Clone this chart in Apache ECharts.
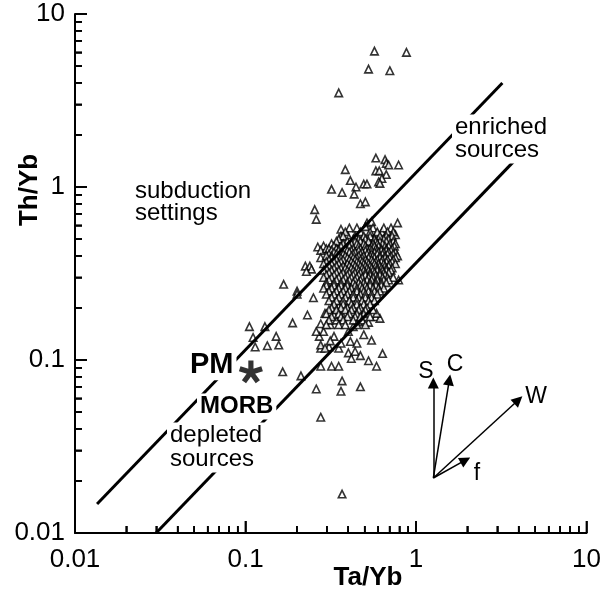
<!DOCTYPE html>
<html><head><meta charset="utf-8">
<script src="https://cdn.jsdelivr.net/npm/echarts@6/dist/echarts.min.js"></script>
<style>
html,body{margin:0;padding:0;background:#fff}
#wrap{position:relative;width:604px;height:595px}
#axes,#marks{position:absolute;left:0;top:0;width:604px;height:595px}
#marks{pointer-events:none}
</style>
</head><body><div id="wrap"><div id="axes"></div><div id="marks"></div></div>
<script>
// ---- data (Ta/Yb, Th/Yb) ----
const xTickLabels = ['0.01', '0.1', '1', '10'];
const yTickLabels = ['0.01', '0.1', '1', '10'];
const majorTickValues = [0.01, 0.1, 1, 10];
const minorTickValues = [0.02,0.03,0.04,0.05,0.06,0.07,0.08,0.09,0.2,0.3,0.4,0.5,0.6,0.7,0.8,0.9,2,3,4,5,6,7,8,9];

const outlierPoints = [[0.53,6.1],[0.81,6.0],[0.49,4.8],[0.65,4.7],[0.33,3.5]];
const upperPoints = [[0.54,1.47],[0.61,1.44],[0.62,1.37],[0.64,1.34],[0.73,1.34],[0.36,1.26],[0.54,1.24],[0.565,1.24],[0.62,1.18],[0.585,1.12],[0.56,1.07],[0.57,1.05],[0.385,1.09],[0.30,0.97],[0.345,0.93],[0.415,1.0],[0.46,1.04],[0.48,1.04],[0.405,0.91],[0.44,0.80],[0.47,0.82],[0.24,0.74],[0.245,0.65],[0.72,0.62],[0.70,0.53],[0.48,0.62],[0.51,0.63],[0.47,0.59],[0.34,0.57],[0.34,0.52],[0.37,0.53],[0.55,0.54],[0.585,0.55],[0.51,0.51],[0.57,0.51],[0.49,0.48],[0.45,0.49],[0.27,0.456],[0.33,0.45],[0.57,0.456],[0.61,0.456]];
const leftPoints = [[0.159,0.274],[0.101,0.156],[0.106,0.135],[0.144,0.137],[0.149,0.122],[0.128,0.121],[0.109,0.119],[0.179,0.164],[0.218,0.182],[0.236,0.229],[0.124,0.156],[0.19,0.25],[0.19,0.24],[0.212,0.349],[0.225,0.349],[0.23,0.335],[0.215,0.325],[0.25,0.45],[0.26,0.43],[0.28,0.44],[0.26,0.39],[0.157,0.0855],[0.20,0.081],[0.26,0.117]];
const lowerPoints = [[0.51,0.13],[0.49,0.165],[0.54,0.178],[0.57,0.174],[0.73,0.29],[0.26,0.092],[0.30,0.092],[0.33,0.092],[0.26,0.122],[0.29,0.119],[0.33,0.117],[0.34,0.125],[0.385,0.128],[0.42,0.125],[0.375,0.11],[0.41,0.112],[0.39,0.102],[0.44,0.106],[0.49,0.099],[0.545,0.092],[0.59,0.109],[0.345,0.0757],[0.34,0.066],[0.44,0.07],[0.245,0.068],[0.26,0.0467],[0.345,0.0168],[0.31,0.137],[0.295,0.129],[0.275,0.117],[0.375,0.146],[0.255,0.137],[0.27,0.146],[0.295,0.16],[0.32,0.17],[0.35,0.178],[0.245,0.146],[0.26,0.162],[0.31,0.182],[0.275,0.186],[0.31,0.2],[0.33,0.205],[0.4,0.156],[0.43,0.166],[0.46,0.14],[0.545,0.186]];
const coreRows = [
  [0.58, [0.38,0.42,0.52,0.6,0.66]],
  [0.55, [0.36,0.44,0.5,0.55,0.63,0.68]],
  [0.52, [0.35,0.41,0.46,0.5,0.57,0.62,0.67]],
  [0.5,  [0.33,0.4,0.43,0.47,0.53,0.6,0.64]],
  [0.485,[0.32,0.37,0.41,0.44,0.49,0.54,0.57,0.62,0.68]],
  [0.47, [0.3,0.35,0.39,0.42,0.46,0.52,0.55,0.59,0.65,0.7]],
  [0.455,[0.31,0.34,0.38,0.43,0.47,0.51,0.53,0.56,0.61,0.64,0.69]],
  [0.44, [0.29,0.32,0.36,0.4,0.44,0.48,0.5,0.54,0.58,0.62,0.67]],
  [0.43, [0.3,0.33,0.37,0.39,0.43,0.47,0.51,0.55,0.58,0.62,0.66]],
  [0.42, [0.31,0.34,0.38,0.41,0.45,0.49,0.53,0.56,0.6,0.64,0.7]],
  [0.41, [0.29,0.32,0.35,0.4,0.44,0.48,0.51,0.55,0.59,0.63,0.68]],
  [0.4,  [0.28,0.3,0.33,0.36,0.39,0.43,0.46,0.5,0.52,0.57,0.61,0.66,0.72]],
  [0.39, [0.3,0.34,0.37,0.4,0.42,0.45,0.49,0.53,0.57,0.61,0.65,0.7]],
  [0.38, [0.29,0.32,0.35,0.38,0.41,0.44,0.47,0.51,0.55,0.59,0.63,0.68]],
  [0.37, [0.28,0.31,0.34,0.39,0.42,0.45,0.48,0.52,0.54,0.58,0.62,0.67]],
  [0.36, [0.27,0.3,0.33,0.37,0.4,0.43,0.46,0.49,0.53,0.56,0.6,0.65,0.7]],
  [0.35, [0.29,0.32,0.35,0.38,0.41,0.44,0.47,0.5,0.54,0.57,0.61,0.64]],
  [0.34, [0.28,0.31,0.34,0.36,0.39,0.42,0.45,0.48,0.51,0.55,0.58,0.62,0.67]],
  [0.33, [0.27,0.3,0.33,0.37,0.4,0.43,0.46,0.49,0.52,0.55,0.59,0.62,0.66]],
  [0.32, [0.29,0.32,0.35,0.38,0.41,0.44,0.47,0.5,0.53,0.57,0.6,0.64]],
  [0.31, [0.28,0.31,0.34,0.37,0.4,0.43,0.47,0.5,0.54,0.57,0.61]],
  [0.3,  [0.27,0.3,0.33,0.36,0.39,0.42,0.45,0.49,0.52,0.55,0.59,0.63,0.68]],
  [0.29, [0.29,0.32,0.35,0.38,0.41,0.44,0.48,0.51,0.55,0.6,0.64]],
  [0.28, [0.28,0.31,0.34,0.37,0.4,0.43,0.46,0.5,0.54,0.58,0.62]],
  [0.27, [0.28,0.31,0.34,0.37,0.41,0.44,0.47,0.5,0.54,0.58]],
  [0.26, [0.27,0.3,0.33,0.36,0.39,0.42,0.45,0.48,0.52,0.56,0.6]],
  [0.25, [0.29,0.32,0.35,0.38,0.42,0.46,0.49,0.53,0.57]],
  [0.24, [0.28,0.31,0.34,0.37,0.4,0.44,0.47,0.51,0.55]],
  [0.23, [0.3,0.33,0.36,0.4,0.43,0.47,0.51]],
  [0.22, [0.29,0.32,0.35,0.38,0.42,0.45,0.49,0.53]],
  [0.21, [0.31,0.35,0.39,0.42,0.46,0.5]],
  [0.2,  [0.3,0.34,0.37,0.4,0.44,0.48]],
  [0.195,[0.29,0.32,0.36,0.39,0.43,0.47,0.52]],
  [0.185,[0.28,0.33,0.38,0.42,0.46]],
  [0.178,[0.3,0.34,0.37,0.41,0.44,0.5]],
  [0.17, [0.29,0.35,0.4,0.45]],
  [0.16, [0.28,0.33,0.36,0.42,0.47]]
];
const pmPoint = [[0.103, 0.0853]];
const upperLine = [[0.0134, 0.0147], [2.89, 3.99]];
const lowerLine = [[0.0293, 0.01], [4.19, 1.77]];
const vectorOrigin = [1.157, 0.0208];
const vectorTips = { S: [1.157, 0.0736], C: [1.43, 0.0766], W: [3.57, 0.0587], f: [1.77, 0.0264] };

// ---- build ----
const corePoints = [];
coreRows.forEach(([y, xs]) => xs.forEach(x => corePoints.push([x, y])));
const allPoints = outlierPoints.concat(upperPoints, leftPoints, lowerPoints, corePoints);
const tickData = majorTickValues.map(v => [v, v, 12]).concat(minorTickValues.map(v => [v, v, 7]));

const FONT = '"Liberation Sans", Arial, sans-serif';
const GRID = { left: 75, right: 8, top: 14, bottom: 62 };
function lbl(v, arr) { return arr[Math.round(Math.log10(v)) + 2]; }

// ===== layer 1: axes and ticks =====
const axesChart = echarts.init(document.getElementById('axes'), null, { renderer: 'canvas' });
function offsetValAxis(pos) {
  // decade offset axis (0..3), used only to carry the 2..9 minor ticks
  return {
    type: 'value', min: 0, max: 3, position: pos, gridIndex: 0,
    axisLine: { show: false }, axisLabel: { show: false }, splitLine: { show: false },
    axisTick: { show: true, inside: true, length: 7, customValues: minorTickValues.map(v => Math.log10(v) + 2),
      lineStyle: { color: '#000', width: 1.5 } }
  };
}
axesChart.setOption({
  animation: false, backgroundColor: '#fff',
  grid: GRID,
  xAxis: [{
    type: 'log', logBase: 10, min: 0.01, max: 10, position: 'bottom',
    axisLine: { show: true, lineStyle: { color: '#000', width: 2 } },
    axisTick: { show: true, inside: true, length: 12, lineStyle: { color: '#000', width: 1.5 } },
    axisLabel: { color: '#000', fontSize: 26, fontFamily: FONT, margin: 14, formatter: v => lbl(v, xTickLabels) },
    splitLine: { show: false }
  }, offsetValAxis('bottom')],
  yAxis: [{
    type: 'log', logBase: 10, min: 0.01, max: 10, position: 'left',
    axisLine: { show: true, lineStyle: { color: '#000', width: 2 } },
    axisTick: { show: true, inside: true, length: 12, lineStyle: { color: '#000', width: 1.5 } },
    axisLabel: { color: '#000', fontSize: 26, fontFamily: FONT, margin: 10, formatter: v => lbl(v, yTickLabels) },
    splitLine: { show: false }
  }, offsetValAxis('left')],
  series: [
    { type: 'scatter', data: [], symbolSize: 0 },
    { type: 'custom', coordinateSystem: 'cartesian2d', clip: false, z: 5, data: tickData,
      renderItem: function (params, api) {
        const p = api.coord([api.value(0), api.value(1)]);
        const o = api.coord([0.01, 0.01]);
        const len = api.value(2);
        return { type: 'group', children: [
          { type: 'rect', shape: { x: p[0] - 0.75, y: o[1] - len, width: 1.5, height: len }, style: { fill: '#000' } },
          { type: 'rect', shape: { x: o[0], y: p[1] - 0.75, width: len, height: 1.5 }, style: { fill: '#000' } }
        ] };
      } }
  ]
});
const tickRects = [];
try {
  const ox = axesChart.convertToPixel({ xAxisIndex: 0 }, 0.01);
  const oy = axesChart.convertToPixel({ yAxisIndex: 0 }, 0.01);
  tickData.forEach(t => {
    const v = t[0], len = t[2];
    const px = axesChart.convertToPixel({ xAxisIndex: 0 }, v);
    const py = axesChart.convertToPixel({ yAxisIndex: 0 }, v);
    tickRects.push({ type: 'rect', z: 60, shape: { x: px - 0.75, y: oy - len, width: 1.5, height: len }, style: { fill: '#000' } });
    tickRects.push({ type: 'rect', z: 60, shape: { x: ox, y: py - 0.75, width: len, height: 1.5 }, style: { fill: '#000' } });
  });
} catch (e) {}
axesChart.setOption({ graphic: tickRects });

// ===== layer 2: data marks and annotations =====
function asteriskPath() {
  const L = 10, h = 2.2; let d = '';
  for (let k = 0; k < 5; k++) {
    const a = k * 72 * Math.PI / 180, c = Math.cos(a), s = Math.sin(a);
    const pts = [[-h, 0], [h, 0], [h, -L], [-h, -L]].map(([x, y]) => [x * c - y * s, x * s + y * c]);
    d += 'M' + pts.map(p => p[0].toFixed(2) + ' ' + p[1].toFixed(2)).join(' L') + ' Z ';
  }
  return 'path://' + d;
}
function txt(text, x, y, size, opts) {
  opts = opts || {};
  return {
    type: 'text', x: x, y: y, z: 100, rotation: opts.rot || 0,
    style: {
      text: text, fill: '#000', font: (opts.bold ? 'bold ' : '') + size + 'px ' + FONT,
      textAlign: opts.align || 'left', textVerticalAlign: 'middle',
      backgroundColor: opts.bg ? '#fff' : null, padding: opts.bg ? opts.pad || [1, 3] : 0
    }
  };
}
function hiddenLog() {
  return { type: 'log', logBase: 10, min: 0.01, max: 10,
    axisLine: { show: false }, axisTick: { show: false }, axisLabel: { show: false }, splitLine: { show: false } };
}
const marksChart = echarts.init(document.getElementById('marks'), null, { renderer: 'canvas' });
marksChart.setOption({
  animation: false, backgroundColor: 'transparent',
  grid: GRID,
  xAxis: hiddenLog(),
  yAxis: hiddenLog(),
  series: [
    {
      type: 'scatter', data: allPoints, symbol: 'triangle', symbolSize: 7.5, z: 2,
      itemStyle: { color: '#fff', borderColor: '#000', borderWidth: 1.6 }, silent: true
    },
    { type: 'line', data: upperLine, symbol: 'none', z: 3, silent: true, lineStyle: { color: '#000', width: 3 } },
    { type: 'line', data: lowerLine, symbol: 'none', z: 3, silent: true, lineStyle: { color: '#000', width: 3 } },
    {
      type: 'scatter', data: pmPoint, symbol: asteriskPath(), symbolSize: 24, symbolKeepAspect: true, z: 4,
      itemStyle: { color: '#000' }, silent: true
    },
    {
      type: 'lines', coordinateSystem: 'cartesian2d', z: 4, silent: true,
      symbol: ['none', 'triangle'], symbolSize: [7, 11],
      lineStyle: { color: '#000', width: 1.5, opacity: 1, curveness: 0 },
      itemStyle: { color: '#000' },
      data: Object.keys(vectorTips).map(k => ({ coords: [vectorOrigin, vectorTips[k]] }))
    }
  ],
  graphic: [
    txt('subduction', 135, 191.6, 24),
    txt('settings', 135, 213.6, 24),
    txt('enriched', 452, 127.6, 24, { bg: true }),
    txt('sources', 452, 150.6, 24, { bg: true }),
    txt('PM', 187, 364.8, 29, { bold: true, bg: true }),
    txt('MORB', 197, 406.6, 24, { bold: true, bg: true }),
    txt('depleted', 167, 435.6, 24, { bg: true }),
    txt('sources', 167, 459.6, 24, { bg: true }),
    txt('S', 426, 372, 23, { align: 'center' }),
    txt('C', 455, 365, 23, { align: 'center' }),
    txt('W', 536, 397, 23, { align: 'center' }),
    txt('f', 477, 474, 23, { align: 'center' }),
    txt('Ta/Yb', 368, 578, 26, { bold: true, align: 'center' }),
    txt('Th/Yb', 30, 190, 26, { bold: true, align: 'center', rot: Math.PI / 2 })
  ]
});
</script>
</body></html>
